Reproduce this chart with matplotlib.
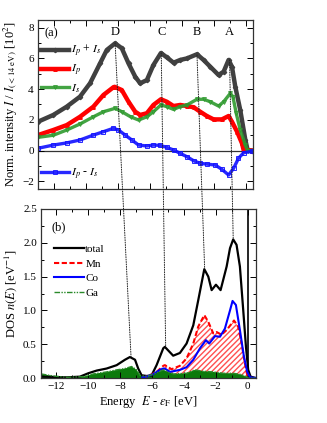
import matplotlib
matplotlib.use("Agg")
import matplotlib.pyplot as plt
from matplotlib.patches import ConnectionPatch
from matplotlib.ticker import MultipleLocator

plt.rcParams['font.family'] = ['Liberation Serif', 'DejaVu Serif']
plt.rcParams['mathtext.fontset'] = 'stix'
plt.rcParams['font.size'] = 8

# ---------------- (a) spectra ----------------
sum_x = [-13.0, -12.04, -11.2, -10.37, -9.74, -9.11, -8.69, -8.17, -7.75, -7.33, -6.91, -6.6,
         -6.18, -5.77, -5.3, -4.93, -4.51, -4.09, -3.67, -3.04, -2.63, -2.21, -1.69, -1.37,
         -1.06, -0.85, -0.64, -0.33, -0.01, 0.13, 0.4]
sum_y = [1.88, 2.32, 2.86, 3.51, 4.38, 5.68, 6.55, 6.98, 6.66, 5.68, 4.81, 4.38,
         4.59, 5.57, 6.35, 6.07, 5.72, 5.9, 6.0, 6.27, 5.9, 5.46, 4.92, 5.14,
         5.9, 5.46, 4.16, 2.64, 0.69, 0.04, 0.0]

ip_x = [-13.0, -12.04, -11.2, -10.37, -9.53, -8.9, -8.28, -8.2, -7.75, -7.33, -6.91, -6.6,
        -6.18, -5.77, -5.3, -4.93, -4.51, -4.09, -3.67, -3.25, -2.84, -2.42, -2.0, -1.48,
        -1.06, -0.85, -0.53, -0.22, -0.12, 0.4]
ip_y = [1.01, 1.34, 1.66, 2.2, 2.86, 3.62, 4.12, 4.15, 3.94, 3.18, 2.53, 2.32,
        2.43, 2.97, 3.34, 3.18, 2.9, 2.97, 2.9, 2.82, 2.53, 2.25, 2.03, 2.03,
        2.25, 1.88, 1.23, 0.47, 0.04, 0.0]

is_x = [-13.0, -12.04, -11.2, -10.37, -9.53, -8.9, -8.17, -7.75, -7.2, -6.7, -6.18, -5.77,
        -5.3, -4.93, -4.51, -4.09, -3.67, -3.04, -2.63, -2.21, -1.69, -1.37, -0.95, -0.79,
        -0.58, -0.33, -0.01, 0.13, 0.4]
is_y = [0.86, 1.0, 1.34, 1.73, 2.2, 2.53, 2.75, 2.53, 2.2, 1.99, 2.2, 2.53,
        2.97, 2.86, 2.68, 2.86, 2.97, 3.34, 3.34, 3.18, 2.9, 3.18, 3.73, 3.51,
        2.42, 1.34, 0.36, 0.0, 0.0]

diff_x = [-13.0, -12.04, -11.2, -10.37, -9.53, -8.9, -8.28, -7.96, -7.54, -7.12, -6.7, -6.18,
          -5.77, -5.35, -4.93, -4.51, -4.09, -3.67, -3.25, -2.84, -2.42, -1.9, -1.48, -1.06,
          -0.75, -0.44, -0.12, 0.4]
diff_y = [0.15, 0.36, 0.5, 0.69, 1.01, 1.23, 1.45, 1.34, 1.01, 0.69, 0.36, 0.3,
          0.36, 0.34, 0.21, 0.04, -0.18, -0.4, -0.66, -0.83, -0.88, -0.94, -1.22, -1.59,
          -1.16, -0.5, -0.14, -0.05]

peak_labels = ['D', 'C', 'B', 'A']
peak_top_x = [-8.17, -5.28, -3.04, -1.0]
peak_top_y = [7.0, 6.35, 6.22, 5.9]
peak_bot_x = [-7.31, -5.14, -2.7, -0.91]
peak_bot_y = [0.315, 0.46, 1.63, 2.07]

# ---------------- (b) DOS ----------------
tot_x = [-12.95, -11.34, -10.51, -9.99, -9.46, -8.84, -8.21, -7.69, -7.38, -7.06, -6.86, -6.65,
         -6.33, -6.02, -5.71, -5.29, -5.19, -4.67, -4.25, -3.83, -3.41, -3.1, -2.72, -2.47,
         -2.26, -1.99, -1.7, -1.32, -1.11, -0.91, -0.7, -0.49, -0.28, -0.11, 0.03, 0.18, 0.5]
tot_y = [0.02, 0.01, 0.02, 0.07, 0.11, 0.14, 0.19, 0.27, 0.31, 0.27, 0.14, 0.04,
         0.03, 0.04, 0.19, 0.44, 0.46, 0.33, 0.37, 0.51, 0.78, 1.15, 1.61, 1.5,
         1.3, 1.38, 1.3, 1.65, 1.92, 2.05, 1.97, 1.65, 1.0, 0.46, 0.12, 0.02, 0.0]

mn_x = [-6.6, -6.33, -5.71, -5.29, -5.19, -4.77, -4.25, -3.83, -3.41, -3.1, -2.72, -2.47,
        -2.16, -1.95, -1.64, -1.32, -0.86, -0.6, -0.38, -0.18, -0.03, 0.15, 0.5]
mn_y = [0.01, 0.02, 0.09, 0.18, 0.19, 0.13, 0.18, 0.29, 0.51, 0.76, 0.93, 0.83,
        0.66, 0.68, 0.64, 0.71, 0.85, 0.76, 0.51, 0.22, 0.04, 0.0, 0.0]

co_x = [-6.6, -6.33, -5.9, -5.5, -5.29, -5.19, -4.87, -4.25, -3.83, -3.41, -2.99, -2.62,
        -2.41, -2.05, -1.74, -1.43, -1.11, -0.95, -0.74, -0.49, -0.24, -0.03, 0.15, 0.5]
co_y = [0.01, 0.02, 0.06, 0.12, 0.14, 0.14, 0.09, 0.12, 0.16, 0.27, 0.44, 0.56,
        0.51, 0.62, 0.61, 0.73, 1.0, 1.14, 1.08, 0.71, 0.32, 0.09, 0.01, 0.0]

ga_x = [-12.95, -12.18, -11.34, -10.3, -9.67, -8.84, -8.21, -7.69, -7.27, -6.96, -6.75, -6.33,
        -5.8, -5.29, -5.19, -4.67, -3.83, -3.31, -2.78, -2.16, -1.53, -0.91, -0.38, -0.11,
        0.03, 0.5]
ga_y = [0.06, 0.03, 0.01, 0.02, 0.06, 0.09, 0.12, 0.14, 0.17, 0.12, 0.04, 0.02,
        0.07, 0.12, 0.11, 0.06, 0.07, 0.12, 0.1, 0.09, 0.07, 0.07, 0.05, 0.02,
        0.0, 0.0]

fig = plt.figure(figsize=(3.27, 4.23), dpi=100)
ax1 = fig.add_axes([38 / 327, 1 - 189 / 423, 214.7 / 327, 169 / 423])
ax2 = fig.add_axes([41 / 327, 1 - 378 / 423, 214.7 / 327, 169 / 423])

c_sum = '#404040'
c_ip = '#ff0000'
c_is = '#2e9a2e'
c_diff = '#1010ff'

ax1.axhline(0, color='#333333', lw=0.9, zorder=1)
l1, = ax1.plot(sum_x, sum_y, color=c_sum, lw=3.2, marker='D', ms=2.2, mfc=c_sum, mec=c_sum,
               label=r'$I_p$ + $I_s$')
l2, = ax1.plot(ip_x, ip_y, color=c_ip, lw=3.2, marker='^', ms=2.5, mfc=c_ip, mec=c_ip,
               label=r'$I_p$')
l3, = ax1.plot(is_x, is_y, color=c_is, lw=2.4, marker='v', ms=2.8, mfc='none', mec=c_is,
               mew=0.7, label=r'$I_s$', alpha=0.9)
l4, = ax1.plot(diff_x, diff_y, color=c_diff, lw=2.4, marker='s', ms=2.4, mfc='none', mec=c_diff,
               mew=0.7, label=r'$I_p$ - $I_s$', alpha=0.9)

leg_kw = dict(frameon=False, fontsize=8.5, handlelength=2.4, handletextpad=0.15,
              borderaxespad=0.2)
leg1 = ax1.legend(handles=[l1, l2, l3], loc='upper left', bbox_to_anchor=(-0.02, 0.905),
                  labelspacing=0.35, **leg_kw)
ax1.add_artist(leg1)
ax1.legend(handles=[l4], loc='lower left', bbox_to_anchor=(-0.02, 0.0), **leg_kw)

ax1.set_xlim(-13.0, 0.45)
ax1.set_ylim(-2.5, 8.5)
ax1.xaxis.set_major_locator(MultipleLocator(2))
ax1.xaxis.set_minor_locator(MultipleLocator(1))
ax1.yaxis.set_major_locator(MultipleLocator(2))
ax1.yaxis.set_minor_locator(MultipleLocator(1))
ax1.tick_params(axis='x', labelbottom=False)
ax1.set_ylabel(r'Norm. intensity $I$ / $I_{(<14\ \mathrm{eV})}$ [10$^2$]', fontsize=9, labelpad=2)
ax1.text(0.03, 0.955, '(a)', transform=ax1.transAxes, fontsize=9, va='top', ha='left')
for lab, px in zip(peak_labels, peak_top_x):
    ax1.text(px, 7.75, lab, fontsize=9, ha='center', va='center')

# (b)
ax2.fill_between(mn_x, 0, mn_y, facecolor='none', edgecolor='#ff5050', hatch='//////', lw=0)
ax2.fill_between(ga_x, 0, ga_y, facecolor='#0b7a0b', edgecolor='none', lw=0)
ax2.axvline(0, color='black', lw=1.2)
t1, = ax2.plot(tot_x, tot_y, color='black', lw=1.6, label='total')
t2, = ax2.plot(mn_x, mn_y, color='red', lw=1.5, ls=(0, (2.5, 1.2)), label='Mn')
t3, = ax2.plot(co_x, co_y, color='blue', lw=1.5, label='Co')
t4, = ax2.plot(ga_x, ga_y, color='#2a8a2a', lw=1.0, ls=(0, (4, 1, 1, 1, 1, 1)), label='Ga')
ax2.legend(handles=[t1, t2, t3, t4], loc='upper left', bbox_to_anchor=(0.03, 0.83),
           frameon=False, fontsize=8, handlelength=2.7, handletextpad=0.1,
           labelspacing=0.42, borderaxespad=0.2)
ax2.set_xlim(-12.95, 0.5)
ax2.set_ylim(0, 2.5)
ax2.xaxis.set_major_locator(MultipleLocator(2))
ax2.xaxis.set_minor_locator(MultipleLocator(1))
ax2.yaxis.set_major_locator(MultipleLocator(0.5))
ax2.yaxis.set_minor_locator(MultipleLocator(0.25))
ax2.set_ylabel(r'DOS $n(E)$ [eV$^{-1}$]', fontsize=9, labelpad=3)
ax2.set_xlabel(r'Energy  $E$ - $\varepsilon_{\mathrm{F}}$ [eV]', fontsize=9, labelpad=2)
ax2.text(0.05, 0.93, '(b)', transform=ax2.transAxes, fontsize=9, va='top', ha='left')

for ax in (ax1, ax2):
    ax.tick_params(which='both', direction='in', top=True, right=True, width=0.7)
    ax.tick_params(which='major', length=4, labelsize=8, pad=3)
    ax.tick_params(which='minor', length=2)
    for s in ax.spines.values():
        s.set_linewidth(0.9)
        s.set_color('#333333')

for xt, yt, xb, yb in zip(peak_top_x, peak_top_y, peak_bot_x, peak_bot_y):
    con = ConnectionPatch(xyA=(xt, yt), coordsA=ax1.transData,
                          xyB=(xb, yb), coordsB=ax2.transData,
                          color='#222222', lw=0.7, ls=(0, (1, 1.5)))
    fig.add_artist(con)

fig.savefig('out.png', dpi=100)
